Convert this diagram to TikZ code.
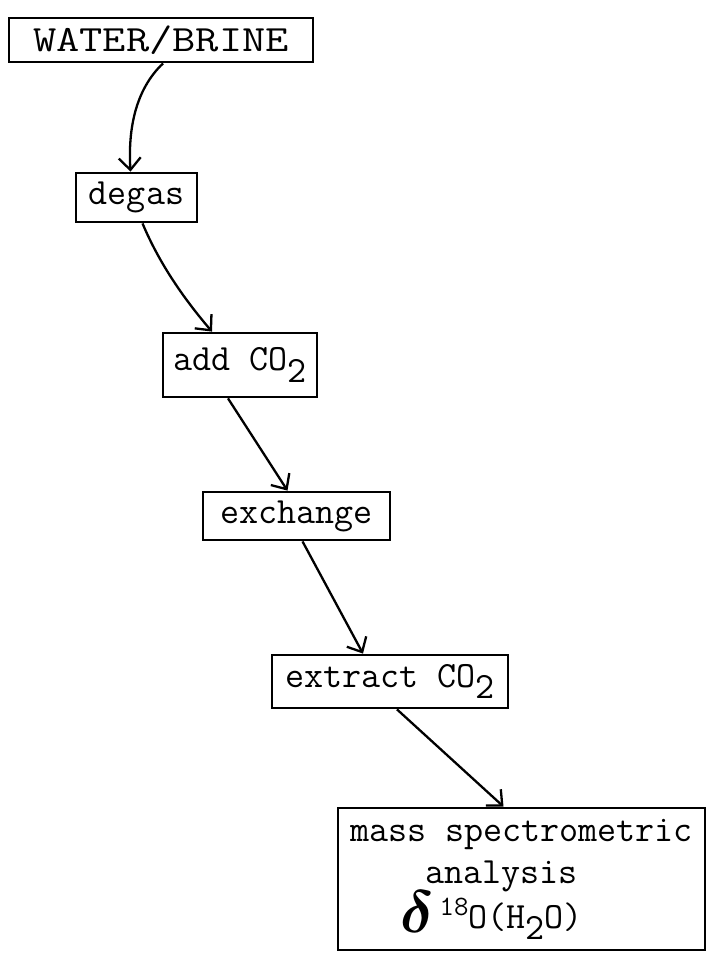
\documentclass[tikz,border=0pt]{standalone}
\usepackage{amsmath}
\usepackage{amssymb}
\usepackage{bm}
\usepackage{graphicx}
\usepackage{fontspec}
\usetikzlibrary{arrows.meta}
\newcommand{\lowsub}[1]{\raisebox{-0.7ex}{#1}}
\newcommand{\highsup}[1]{\raisebox{0.8ex}{\fontsize{28}{28}\selectfont #1}}

\begin{document}
\begin{tikzpicture}
        [x=1pt,y=-1pt,
         every node/.style={draw,line width=2.8pt,inner sep=0pt,align=center,
                            font=\fontsize{37}{42}\selectfont\ttfamily},
         arr/.style={line width=2.3pt,-{Straight Barb[length=12pt,width=22pt,line width=2.3pt]}}]
        \useasboundingbox (0,0) rectangle (707,955);
        \node[minimum width=304pt,minimum height=44pt] (water) at (161,40)
             {\scalebox{1.22}[1]{WATER/BRINE}};
        \node[minimum width=121pt,minimum height=49pt] (degas) at (136.5,197.5) {degas};
        \node[minimum width=154pt,minimum height=64pt] (addco) at (240,365) {add CO\lowsub{2}};
        \node[minimum width=187pt,minimum height=48pt] (exch) at (296.5,516) {exchange};
        \node[minimum width=236pt,minimum height=53pt] (extr) at (390,681.5) {extract CO\lowsub{2}};
        \node[minimum width=367pt,minimum height=142pt] (mass) at (521.5,879)
             {mass spectrometric\\analysis\hspace*{40pt}\mbox{}\\[-2pt]
              \raisebox{-4pt}{\scalebox{2.4}{$\bm{\delta}$}}\,\highsup{18}O(H\lowsub{2}O)\hspace*{60pt}};

        % the arrows
        \draw[arr] ([xshift=2pt]water.south) .. controls (135,90) and (128,130) .. ([xshift=-6pt]degas.north);
        \draw[arr] ([xshift=6pt]degas.south) .. controls (160,265) and (185,300) .. ([xshift=-28pt]addco.north);
        \draw[arr] ([xshift=-12pt]addco.south) -- ([xshift=-9pt]exch.north);
        \draw[arr] ([xshift=6pt]exch.south) -- ([xshift=-27pt]extr.north);
        \draw[arr] ([xshift=7pt]extr.south) -- ([xshift=-18pt]mass.north);
    \end{tikzpicture}
\end{document}
